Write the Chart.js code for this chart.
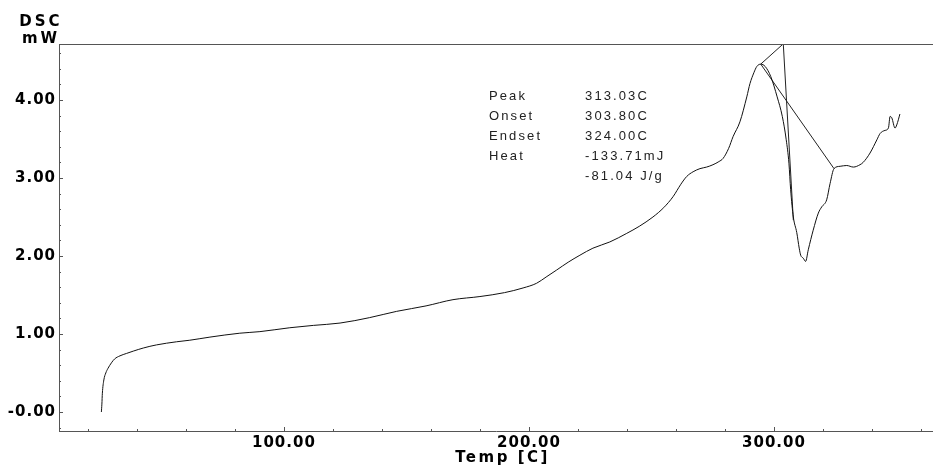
<!DOCTYPE html>
<html><head><meta charset="utf-8">
<script src="https://cdn.jsdelivr.net/npm/chart.js@4.4.1/dist/chart.umd.min.js"></script>
<style>html,body{margin:0;padding:0;background:#fff;overflow:hidden}</style>
</head><body>
<canvas id="c" width="933" height="466"></canvas>
<script>
// ---- data ----
const tempC = [25.5,25.7,25.9,26.5,27.3,28.2,29.6,30.9,33.1,35.7,38.5,42.6,48.0,56.2,61.6,69.8,82.0,90.2,102.4,112.0,122.9,135.0,146.0,158.0,169.0,180.0,190.0,197.6,203.1,207.0,211.3,216.0,220.8,226.1,233.0,239.9,245.0,250.6,255.0,258.8,262.0,264.4,267.0,269.8,272.5,275.1,277.5,279.2,281.5,283.3,286.1,288.9,290.2,291.8,293.0,294.6,296.4,298.7,301.3,303.4,305.0,306.1,306.8,307.9,309.3,310.3,310.9,312.0,312.9,314.0,316.0,318.1,319.5,321.5,322.9,324.5,327.0,329.7,332.4,335.1,336.4,339.2,342.0,343.3,345.3,346.7,347.4,348.1,349.4,350.1,351.4];
const dscMW = [0.00,0.10,0.24,0.41,0.50,0.56,0.63,0.68,0.72,0.75,0.78,0.82,0.86,0.90,0.92,0.96,1.01,1.03,1.08,1.11,1.14,1.21,1.29,1.36,1.44,1.48,1.53,1.59,1.65,1.73,1.82,1.92,2.01,2.10,2.18,2.29,2.38,2.50,2.62,2.76,2.92,3.02,3.08,3.12,3.14,3.17,3.21,3.25,3.38,3.53,3.72,4.04,4.21,4.35,4.43,4.46,4.43,4.30,4.04,3.79,3.49,3.19,2.85,2.50,2.30,2.10,2.01,1.97,1.93,2.08,2.33,2.55,2.63,2.72,2.93,3.12,3.15,3.16,3.14,3.17,3.20,3.32,3.49,3.57,3.61,3.64,3.79,3.77,3.64,3.68,3.82];
const baselineTemp = [294.6, 324.5];
const baselineMW   = [4.46, 3.12];
const tangentTemp  = [294.6, 303.8, 307.9];
const tangentMW    = [4.46, 4.72, 2.46];

const xRange = [8.2, 364.9];
const yRange = [-0.244, 4.718];
const xMajorTicks = [100, 200, 300];
const xTickLabels = ['100.00', '200.00', '300.00'];
const xMinorTicks = [20, 40, 60, 80, 120, 140, 160, 180, 220, 240, 260, 280, 320, 340, 360];
const yMajorTicks = [0, 1, 2, 3, 4];
const yTickLabels = ['-0.00', '1.00', '2.00', '3.00', '4.00'];
const yMinorTicks = [-0.2, 0.2, 0.4, 0.6, 0.8, 1.2, 1.4, 1.6, 1.8, 2.2, 2.4, 2.6, 2.8, 3.2, 3.4, 3.6, 3.8, 4.2, 4.4, 4.6];
const yTitleLines = ['DSC', 'mW'];
const xTitle = 'Temp [C]';
const xTitleAtT = 189.2;
const resultNames  = ['Peak', 'Onset', 'Endset', 'Heat', ''];
const resultValues = ['313.03C', '303.80C', '324.00C', '-133.71mJ', '-81.04 J/g'];
const resultAnchor = {nameT: 183.7, valueT: 222.9, mW: 4.04};

// ---- helpers ----
const pts = (xs, ys) => xs.map((v, i) => ({x: v, y: ys[i]}));
const axisColor = '#555';
const tickFont = {family: 'DejaVu Sans', size: 15, weight: 'bold'};

const decor = {
  id: 'decor',
  beforeDraw(chart) { chart.ctx.letterSpacing = '1px'; },
  afterDraw(chart) {
    const {ctx, chartArea: a, scales: {x, y}} = chart;
    ctx.save();
    ctx.strokeStyle = axisColor; ctx.lineWidth = 1;
    ctx.beginPath();
    ctx.moveTo(a.left, Math.round(a.top) + 0.5); ctx.lineTo(a.right, Math.round(a.top) + 0.5);
    const yt = (v, len) => { const p = Math.round(y.getPixelForValue(v)) + 0.5; ctx.moveTo(a.left, p); ctx.lineTo(a.left + len, p); };
    const xt = (v, len) => { const p = Math.round(x.getPixelForValue(v)) + 0.5; ctx.moveTo(p, a.bottom); ctx.lineTo(p, a.bottom - len); };
    yMajorTicks.forEach(v => yt(v, 4)); yMinorTicks.forEach(v => yt(v, 2));
    xMajorTicks.forEach(v => xt(v, 4)); xMinorTicks.forEach(v => xt(v, 2));
    ctx.stroke();
    // axis titles
    ctx.fillStyle = '#000';
    ctx.font = 'bold 15px "DejaVu Sans"';
    ctx.textAlign = 'center'; ctx.textBaseline = 'alphabetic';
    ctx.letterSpacing = '3px';
    ctx.fillText(yTitleLines[0], a.left - 18, a.top - 18);
    ctx.fillText(yTitleLines[1], a.left - 18, a.top - 1);
    ctx.letterSpacing = '2.5px';
    ctx.fillText(xTitle, x.getPixelForValue(xTitleAtT), chart.height - 4);
    // results block
    ctx.font = '13px "Liberation Sans"';
    ctx.letterSpacing = '2.1px';
    ctx.fillStyle = '#222';
    ctx.textAlign = 'left'; ctx.textBaseline = 'middle';
    const nx = x.getPixelForValue(resultAnchor.nameT);
    const vx = x.getPixelForValue(resultAnchor.valueT);
    const y0 = y.getPixelForValue(resultAnchor.mW);
    resultNames.forEach((n, i) => {
      const yy = y0 + i * 19.8;
      if (n) ctx.fillText(n, nx, yy);
      ctx.fillText(resultValues[i], vx, yy);
    });
    ctx.restore();
  }
};

new Chart(document.getElementById('c'), {
  type: 'scatter',
  data: {
    datasets: [
      {data: pts(tempC, dscMW), showLine: true, borderColor: '#111', borderWidth: 1, pointRadius: 0, cubicInterpolationMode: 'monotone'},
      {data: pts(baselineTemp, baselineMW), showLine: true, borderColor: '#222', borderWidth: 1, pointRadius: 0},
      {data: pts(tangentTemp, tangentMW), showLine: true, borderColor: '#222', borderWidth: 1, pointRadius: 0}
    ]
  },
  options: {
    responsive: false, animation: false, devicePixelRatio: 1,
    layout: {padding: {top: 44, right: 0, left: 0, bottom: 0}},
    plugins: {legend: {display: false}, tooltip: {enabled: false}},
    scales: {
      x: {
        type: 'linear', min: xRange[0], max: xRange[1],
        afterBuildTicks: s => { s.ticks = xMajorTicks.map(v => ({value: v})); },
        afterFit: s => { s.height = 35; },
        grid: {display: false, drawTicks: false},
        border: {display: true, color: axisColor, width: 1},
        ticks: {autoSkip: false, maxRotation: 0, padding: 3, color: '#000', font: tickFont,
                callback: v => { const i = xMajorTicks.indexOf(v); return i >= 0 ? xTickLabels[i] : ''; }},
        title: {display: false}
      },
      y: {
        type: 'linear', min: yRange[0], max: yRange[1],
        afterBuildTicks: s => { s.ticks = yMajorTicks.map(v => ({value: v})); },
        afterFit: s => { s.width = 59; },
        grid: {display: false, drawTicks: false},
        border: {display: true, color: axisColor, width: 1},
        ticks: {autoSkip: false, padding: 3, color: '#000', font: tickFont,
                callback: v => { const i = yMajorTicks.indexOf(v); return i >= 0 ? yTickLabels[i] : ''; }}
      }
    }
  },
  plugins: [decor]
});
</script>
</body></html>
